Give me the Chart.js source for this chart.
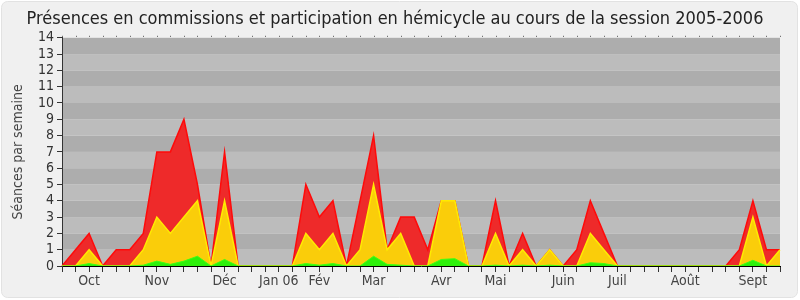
<!DOCTYPE html>
<html>
<head>
<meta charset="utf-8">
<script src="https://cdn.jsdelivr.net/npm/chart.js@4"></script>
<style>
  html, body { margin: 0; padding: 0; background: #ffffff; }
  #box { width: 800px; height: 300px; }
</style>
</head>
<body>
<div id="box"><canvas id="presences" width="800" height="300"></canvas></div>
<script>
// une valeur par semaine, de septembre 2005 a septembre 2006
const semaines = ['', '', 'Oct', '', '', '', '', 'Nov', '', '', '', '', 'Déc', '', '', '', 'Jan 06', '', '', 'Fév', '', '', '', 'Mar', '', '', '', '', 'Avr', '', '', '', 'Mai', '', '', '', '', 'Juin', '', '', '', 'Juil', '', '', '', '', 'Août', '', '', '', '', 'Sept', '', ''];
const commissions = [0, 1, 2, 0, 1, 1, 2, 7, 7, 9, 5, 0, 7, 0, 0, 0, 0, 0, 5, 3, 4, 0, 4, 8, 1, 3, 3, 1, 4, 4, 0, 0, 4, 0, 2, 0, 1, 0, 1, 4, 2, 0, 0, 0, 0, 0, 0, 0, 0, 0, 1, 4, 1, 1];
const hemicycle = [0, 0, 1, 0, 0, 0, 1, 3, 2, 3, 4, 0, 4, 0, 0, 0, 0, 0, 2, 1, 2, 0, 1, 5, 1, 2, 0, 0, 4, 4, 0, 0, 2, 0, 1, 0, 1, 0, 0, 2, 1, 0, 0, 0, 0, 0, 0, 0, 0, 0, 0, 3, 0, 1];
const interventions = [0, 0, 0.15, 0, 0, 0, 0.05, 0.3, 0.1, 0.3, 0.6, 0, 0.4, 0, 0, 0, 0, 0, 0.15, 0.05, 0.15, 0, 0, 0.6, 0.1, 0.05, 0, 0, 0.4, 0.45, 0, 0, 0.05, 0, 0.05, 0, 0.05, 0, 0, 0.2, 0.15, 0, 0, 0, 0, 0, 0, 0, 0, 0, 0, 0.35, 0, 0];

const police = 'DejaVu Sans Condensed, DejaVu Sans, sans-serif';

// fond gris arrondi + bandes alternees
const fond = {
    id: 'fond',
    beforeDraw(chart) {
        const c = chart.ctx;
        c.save();
        c.fillStyle = '#f0f0f0';
        c.strokeStyle = '#e2e2e2';
        c.lineWidth = 1;
        c.beginPath();
        c.roundRect(1.5, 1.5, 796, 296, 6);
        c.fill();
        c.stroke();
        const a = chart.chartArea;
        const y = chart.scales.y;
        for (let v = 0; v < 14; v++) {
            const haut = y.getPixelForValue(v + 1);
            const bas = y.getPixelForValue(v);
            c.fillStyle = (v % 2 == 1) ? '#adadad' : '#bcbcbc';
            c.fillRect(a.left, haut, a.right - a.left, bas - haut);
        }
        // petits points en haut
        c.fillStyle = '#555';
        const x = chart.scales.x;
        for (let i = 0; i < semaines.length; i++) {
            c.fillRect(Math.round(x.getPixelForValue(i)), a.top - 2, 1, 1);
        }
        c.restore();
    }
};

const ctx = document.getElementById('presences');
const presences = new Chart(ctx, {
    type: 'line',
    data: {
        labels: semaines,
        datasets: [{
            label: 'Interventions',
            data: interventions,
            backgroundColor: 'rgb(45, 240, 10)',
            borderColor: 'rgb(60, 255, 20)',
            borderWidth: 1,
            fill: 'origin',
            order: 1
        }, {
            label: 'Hémicycle',
            data: hemicycle,
            backgroundColor: 'rgb(250, 205, 10)',
            borderColor: 'rgb(255, 235, 0)',
            borderWidth: 1.5,
            fill: 'origin',
            order: 2
        }, {
            label: 'Commissions',
            data: commissions,
            backgroundColor: 'rgb(238, 42, 42)',
            borderColor: 'rgb(255, 10, 10)',
            borderWidth: 1.5,
            fill: 'origin',
            order: 3
        }]
    },
    options: {
        responsive: false,
        animation: false,
        layout: { padding: { top: 7, right: 20, left: 10, bottom: 0 } },
        elements: { point: { radius: 0 }, line: { tension: 0 } },
        plugins: {
            legend: { display: false },
            tooltip: { enabled: false },
            title: {
                display: true,
                text: 'Présences en commissions et participation en hémicycle au cours de la session 2005-2006',
                color: '#222',
                font: { family: police, size: 18, weight: 'normal', lineHeight: 1.1 },
                padding: { top: 2, bottom: 9 }
            }
        },
        scales: {
            x: {
                offset: false,
                border: { color: '#000', width: 1 },
                grid: { display: true, drawOnChartArea: false, tickLength: 6, color: '#333' },
                ticks: {
                    autoSkip: false,
                    maxRotation: 0,
                    color: '#444',
                    padding: 1,
                    font: { family: police, size: 14 }
                },
                afterFit(scale) { scale.height = 34; }
            },
            y: {
                min: 0,
                max: 14,
                border: { color: '#333', width: 1 },
                grid: { display: true, drawOnChartArea: false, tickLength: 5, color: '#333' },
                ticks: {
                    stepSize: 1,
                    autoSkip: false,
                    color: '#333',
                    padding: 3,
                    font: { family: police, size: 14, lineHeight: 1 }
                },
                title: {
                    display: true,
                    text: 'Séances par semaine',
                    color: '#444',
                    font: { family: police, size: 14 },
                    padding: 0
                },
                afterFit(scale) { scale.width = 52; }
            }
        }
    },
    plugins: [fond]
});
</script>
</body>
</html>
